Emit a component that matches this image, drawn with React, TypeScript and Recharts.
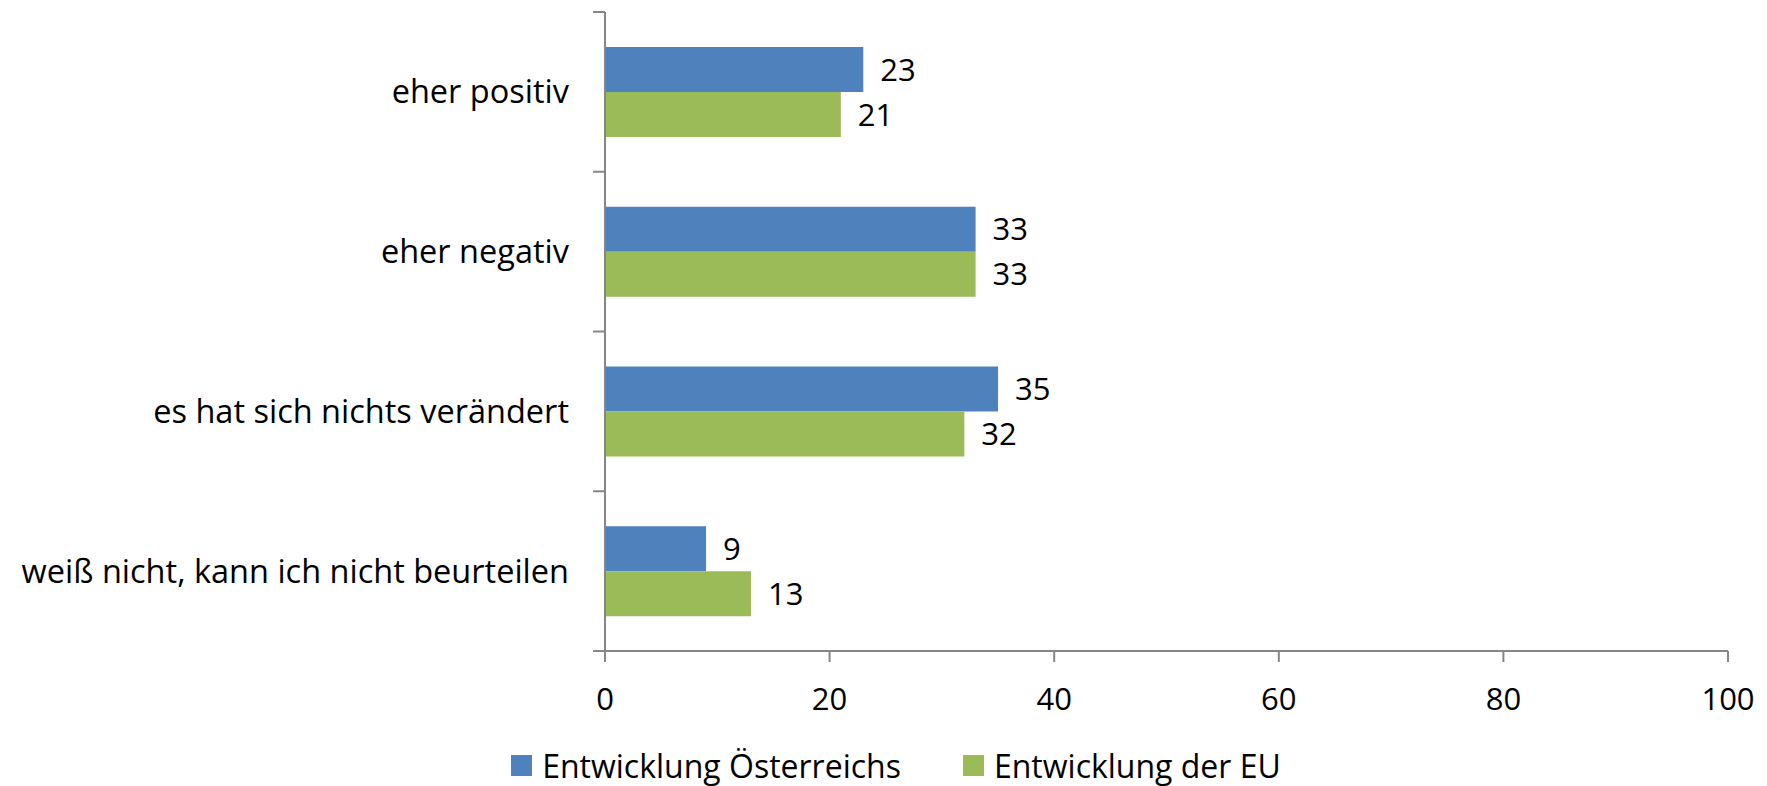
import { Bar, BarChart, LabelList, Legend, XAxis, YAxis } from 'recharts'

const categories = [
    'eher positiv',
    'eher negativ',
    'es hat sich nichts verändert',
    'weiß nicht, kann ich nicht beurteilen'
]
const oesterreich = [23, 33, 35, 9]
const eu = [21, 33, 32, 13]
const xTicks = [0, 20, 40, 60, 80, 100]

const seriesKeys = ['at', 'eu']
const seriesNames = {
    at: 'Entwicklung Österreichs',
    eu: 'Entwicklung der EU'
}

const data = categories.map((name, i) => ({ name, at: oesterreich[i], eu: eu[i] }))

const FONT = '"Open Sans", sans-serif'
const AXIS = '#868686'
const TICK_MARGIN = 36
const TICK_LEN = 12

// category labels plus the small tick marks that sit between the bands
const CategoryTick = (props: any) => {
    const { x, y, payload, index } = props
    const half = payload.offset || 0
    const axisX = x + TICK_MARGIN
    return (
        <g>
            <text x={x} y={y} dy="0.35em" textAnchor="end" fill="#000" fontSize={32.5} fontFamily={FONT}>
                {payload.value}
            </text>
            <line x1={axisX - TICK_LEN} x2={axisX} y1={y - half} y2={y - half} stroke={AXIS} strokeWidth={2} />
            {index === categories.length - 1 && (
                <line x1={axisX - TICK_LEN} x2={axisX} y1={y + half} y2={y + half} stroke={AXIS} strokeWidth={2} />
            )}
        </g>
    )
}

const renderLegend = (props: any) => {
    const items = [...props.payload].sort(
        (a: any, b: any) => seriesKeys.indexOf(a.dataKey) - seriesKeys.indexOf(b.dataKey)
    )
    return (
        <div style={{ display: 'flex', justifyContent: 'center', height: 36, alignItems: 'center', fontFamily: FONT, fontSize: 32 }}>
            {items.map((entry: any, i: number) => (
                <div key={`legend-${i}`} style={{ display: 'flex', alignItems: 'center', marginRight: i === 0 ? 62 : 0 }}>
                    <div style={{ width: 21, height: 21, background: entry.color, marginRight: 10 }} />
                    <span style={{ color: '#000' }}>{entry.value}</span>
                </div>
            ))}
        </div>
    )
}

export default function App() {
    return (
        <div style={{ position: 'absolute', left: 0, top: 0, background: '#fff' }}>
            <BarChart
                width={1767}
                height={786}
                data={data}
                layout="vertical"
                margin={{ top: 12, right: 39, bottom: 63, left: 0 }}
                barCategoryGap={35}
                barGap={0}
            >
                <XAxis
                    type="number"
                    domain={[0, 100]}
                    ticks={xTicks}
                    stroke={AXIS}
                    strokeWidth={2}
                    tickSize={11}
                    tickMargin={26}
                    tick={{ fill: '#000', fontSize: 31, fontFamily: FONT }}
                    height={36}
                />
                <YAxis
                    type="category"
                    dataKey="name"
                    width={605}
                    stroke={AXIS}
                    strokeWidth={2}
                    tickLine={false}
                    tickSize={0}
                    tickMargin={TICK_MARGIN}
                    tick={CategoryTick}
                />
                <Legend
                    content={renderLegend}
                    verticalAlign="bottom"
                    wrapperStyle={{ top: 747, bottom: 'auto', left: 0, width: 1792 }}
                />
                <Bar dataKey="at" name={seriesNames.at} fill="#4F81BD" isAnimationActive={false}>
                    <LabelList dataKey="at" position="right" offset={17} fill="#000" fontSize={31} fontFamily={FONT} />
                </Bar>
                <Bar dataKey="eu" name={seriesNames.eu} fill="#9BBB59" isAnimationActive={false}>
                    <LabelList dataKey="eu" position="right" offset={17} fill="#000" fontSize={31} fontFamily={FONT} />
                </Bar>
            </BarChart>
        </div>
    )
}
